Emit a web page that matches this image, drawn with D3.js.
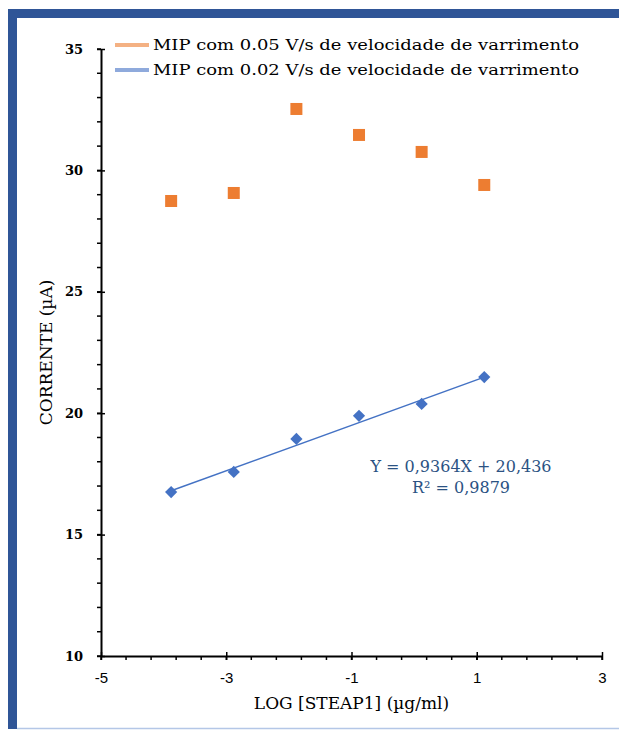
<!DOCTYPE html>
<html>
<head>
<meta charset="utf-8">
<script src="https://cdn.jsdelivr.net/npm/d3@7"></script>
<style>
  body { margin: 0; background: #fff; }
</style>
</head>
<body>
<div id="container"></div>
<script>
// Chart data
const logConc = [-3.88, -2.88, -1.88, -0.88, 0.12, 1.12];
const current005 = [28.74, 29.07, 32.53, 31.46, 30.76, 29.40];
const current002 = [16.75, 17.58, 18.94, 19.89, 20.38, 21.49];
const xTicks = [-5, -3, -1, 1, 3];
const yTicks = [10, 15, 20, 25, 30, 35];
const seriesNames = [
  "MIP com 0.05 V/s de velocidade de varrimento",
  "MIP com 0.02 V/s de velocidade de varrimento"
];
const slope = 0.9364;
const intercept = 20.436;
const eqText = "Y = 0,9364X + 20,436";
const r2Text = "R² = 0,9879";

// Dimensions
const width = 619;
const height = 731;
const marginLeft = 101;
const marginRight = 17;
const marginTop = 49;
const marginBottom = 75;

const x = d3.scaleLinear().domain([-5, 3]).range([marginLeft, width - marginRight]);
const y = d3.scaleLinear().domain([10, 35]).range([height - marginBottom, marginTop]);

const svg = d3.create("svg").attr("width", width).attr("height", height);

// Frame
svg.append("rect").attr("x", 8).attr("y", 9).attr("width", width - 8).attr("height", 9).attr("fill", "#2f5597");
svg.append("rect").attr("x", 8).attr("y", 9).attr("width", 9).attr("height", 720).attr("fill", "#2f5597");
svg.append("line").attr("x1", 17).attr("x2", width).attr("y1", 728.5).attr("y2", 728.5)
  .attr("stroke", "#b4c7e7").attr("stroke-width", 1.5);

const serif = "'DejaVu Serif', 'Liberation Serif', serif";

// Minor ticks
const xMinor = d3.range(-5, 3.001, 0.4);
const yMinor = d3.range(10, 35.001, 1);
svg.append("g").selectAll("line").data(xMinor).join("line")
  .attr("x1", d => x(d)).attr("x2", d => x(d))
  .attr("y1", y(10)).attr("y2", y(10) + 4)
  .attr("stroke", "#000").attr("stroke-width", 1.5);
svg.append("g").selectAll("line").data(yMinor).join("line")
  .attr("x1", x(-5) - 4).attr("x2", x(-5))
  .attr("y1", d => y(d)).attr("y2", d => y(d))
  .attr("stroke", "#000").attr("stroke-width", 1.5);

// X axis (major ticks cross the line)
const xAxis = svg.append("g")
  .attr("transform", `translate(0,${y(10)})`)
  .call(d3.axisBottom(x).tickValues(xTicks).tickSizeInner(4).tickSizeOuter(0).tickPadding(12).tickFormat(d3.format("d")));
xAxis.select(".domain").attr("stroke-width", 2);
xAxis.selectAll(".tick line").attr("y1", -4).attr("stroke-width", 1.5);
xAxis.selectAll(".tick text")
  .attr("font-family", "'Liberation Sans', Arial, sans-serif")
  .attr("font-size", 15).attr("fill", "#000")
  .text(d => d < 0 ? "-" + Math.abs(d) : d);

// Y axis
const yAxis = svg.append("g")
  .attr("transform", `translate(${x(-5)},0)`)
  .call(d3.axisLeft(y).tickValues(yTicks).tickSizeInner(4).tickSizeOuter(0).tickPadding(14));
yAxis.select(".domain").attr("stroke-width", 2);
yAxis.selectAll(".tick line").attr("x1", 4).attr("stroke-width", 1.5);
yAxis.selectAll(".tick text")
  .attr("font-family", serif).attr("font-weight", "bold")
  .attr("font-size", 13).attr("fill", "#000");

// Axis titles
svg.append("text")
  .attr("x", (x(-5) + x(3)) / 2).attr("y", 709)
  .attr("text-anchor", "middle")
  .attr("font-family", serif).attr("font-size", 17)
  .text("LOG [STEAP1] (µg/ml)");
svg.append("text")
  .attr("transform", `translate(52,${(y(10) + y(35)) / 2}) rotate(-90)`)
  .attr("text-anchor", "middle")
  .attr("font-family", serif).attr("font-size", 17)
  .text("CORRENTE (µA)");

// Trend line for 0.02 V/s
const x0 = d3.min(logConc), x1 = d3.max(logConc);
svg.append("line")
  .attr("x1", x(x0)).attr("y1", y(slope * x0 + intercept))
  .attr("x2", x(x1)).attr("y2", y(slope * x1 + intercept))
  .attr("stroke", "#4472c4").attr("stroke-width", 1.5);

// Orange squares
svg.append("g").selectAll("rect").data(logConc).join("rect")
  .attr("x", d => x(d) - 6).attr("y", (d, i) => y(current005[i]) - 6)
  .attr("width", 12).attr("height", 12)
  .attr("fill", "#ed7d31");

// Blue diamonds
svg.append("g").selectAll("path").data(logConc).join("path")
  .attr("d", d3.symbol(d3.symbolDiamond2, 95))
  .attr("transform", (d, i) => `translate(${x(d)},${y(current002[i])})`)
  .attr("fill", "#4472c4");

// Equation label
svg.append("text")
  .attr("x", 461).attr("y", 472)
  .attr("text-anchor", "middle")
  .attr("font-family", serif).attr("font-size", 16).attr("fill", "#2b5283")
  .text(eqText);
svg.append("text")
  .attr("x", 461).attr("y", 493)
  .attr("text-anchor", "middle")
  .attr("font-family", serif).attr("font-size", 16).attr("fill", "#2b5283")
  .text(r2Text);

// Legend
const legendColors = ["#f4b183", "#8faadc"];
const legend = svg.append("g").selectAll("g").data(seriesNames).join("g")
  .attr("transform", (d, i) => `translate(115,${45 + i * 25})`);
legend.append("line")
  .attr("x1", 0).attr("x2", 34)
  .attr("stroke", (d, i) => legendColors[i]).attr("stroke-width", 4);
legend.append("text")
  .attr("x", 38).attr("y", 5)
  .attr("font-family", serif).attr("font-size", 15)
  .attr("textLength", 426).attr("lengthAdjust", "spacingAndGlyphs")
  .text(d => d);

document.getElementById("container").append(svg.node());
</script>
</body>
</html>
